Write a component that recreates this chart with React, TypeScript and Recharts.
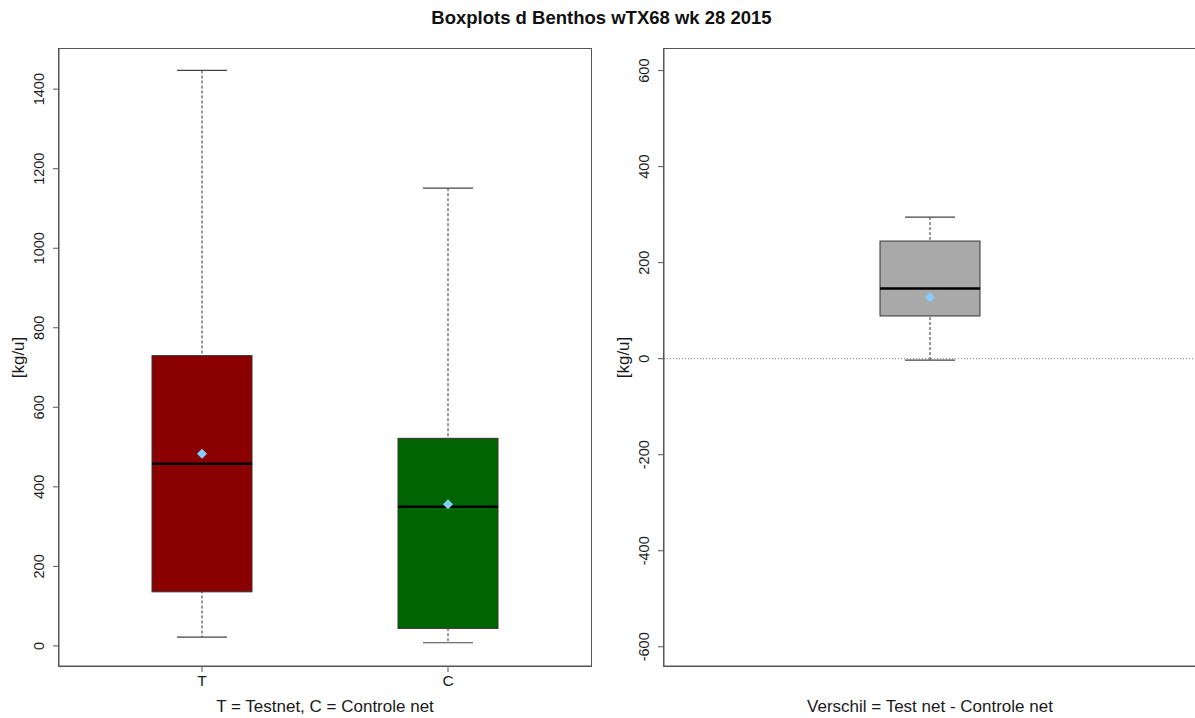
import React from "react";
import {
  ComposedChart,
  Bar,
  Scatter,
  XAxis,
  YAxis,
  ReferenceLine,
} from "recharts";

// ---- Data ----
const leftCategories = ["T", "C"];
const leftMin = [22, 8];
const leftQ1 = [136, 44];
const leftMedian = [458, 350];
const leftQ3 = [730, 522];
const leftMax = [1447, 1151];
const leftMean = [483, 356];
const leftColors = ["#8B0000", "#006400"];
const leftTicks = [0, 200, 400, 600, 800, 1000, 1200, 1400];

const rightCategories = ["Verschil"];
const rightMin = [-3];
const rightQ1 = [89];
const rightMedian = [146];
const rightQ3 = [245];
const rightMax = [295];
const rightMean = [128];
const rightColors = ["#A9A9A9"];
const rightTicks = [-600, -400, -200, 0, 200, 400, 600];

const leftData = leftCategories.map((name, i) => ({
  name,
  whisker: [leftMin[i], leftMax[i]],
  box: [leftQ1[i], leftQ3[i]],
  median: leftMedian[i],
  mean: leftMean[i],
  color: leftColors[i],
}));

const rightData = rightCategories.map((name, i) => ({
  name,
  whisker: [rightMin[i], rightMax[i]],
  box: [rightQ1[i], rightQ3[i]],
  median: rightMedian[i],
  mean: rightMean[i],
  color: rightColors[i],
}));

const FONT = "'Liberation Sans', Arial, sans-serif";
const TEXT = "#1a1a1a";
const FRAME = "#555";

const WhiskerShape = (props: any) => {
  const { x, y, width, height } = props;
  const top = Math.min(y, y + height);
  const bottom = Math.max(y, y + height);
  const cx = x + width / 2;
  const half = width / 4;
  return (
    <g>
      <line x1={cx} x2={cx} y1={top} y2={bottom} stroke="#333" strokeWidth={1} strokeDasharray="3 2" />
      <line x1={cx - half} x2={cx + half} y1={top} y2={top} stroke="#444" strokeWidth={1.2} />
      <line x1={cx - half} x2={cx + half} y1={bottom} y2={bottom} stroke="#444" strokeWidth={1.2} />
    </g>
  );
};

const BoxShape = (props: any) => {
  const { x, y, width, height, payload } = props;
  const top = Math.min(y, y + height);
  const h = Math.abs(height);
  return <rect x={x} y={top} width={width} height={h} fill={payload.color} stroke="#333" strokeWidth={1} />;
};

const MedianShape = (props: any) => {
  const { cx, cy } = props;
  return <line x1={cx - 50} x2={cx + 50} y1={cy} y2={cy} stroke="#000" strokeWidth={2.5} />;
};

const MeanShape = (props: any) => {
  const { cx, cy } = props;
  const r = 5;
  return (
    <polygon
      points={`${cx},${cy - r} ${cx + r},${cy} ${cx},${cy + r} ${cx - r},${cy}`}
      fill="#87CEFA"
    />
  );
};

const YTick = (props: any) => {
  const { x, y, payload } = props;
  const cx = x - 12;
  return (
    <text
      x={cx}
      y={y}
      transform={`rotate(-90, ${cx}, ${y})`}
      textAnchor="middle"
      dominantBaseline="central"
      fontSize={14.5}
      fontFamily={FONT}
      fill={TEXT}
    >
      {payload.value}
    </text>
  );
};

const YLabel = (offsetX: number) => (props: any) => {
  const { viewBox } = props;
  const cx = viewBox.x + offsetX;
  const cy = viewBox.y + viewBox.height / 2;
  return (
    <text
      x={cx}
      y={cy}
      transform={`rotate(-90, ${cx}, ${cy})`}
      textAnchor="middle"
      dominantBaseline="central"
      fontSize={17}
      fontFamily={FONT}
      fill={TEXT}
    >
      [kg/u]
    </text>
  );
};

const XLabel = (text: string) => (props: any) => {
  const { viewBox } = props;
  const cx = viewBox.x + viewBox.width / 2;
  return (
    <text x={cx} y={706} textAnchor="middle" dominantBaseline="central" fontSize={17} fontFamily={FONT} fill={TEXT}>
      {text}
    </text>
  );
};

type PanelProps = {
  data: any[];
  domain: [number, number];
  ticks: number[];
  width: number;
  padding: number;
  xLabel: string;
  showTickLabels: boolean;
  zeroLine: boolean;
};

const Panel = ({ data, domain, ticks, width, padding, xLabel, showTickLabels, zeroLine }: PanelProps) => (
  <ComposedChart
    width={width}
    height={718}
    data={data}
    margin={{ top: 49, right: width - 59 - 532, bottom: 22, left: 0 }}
  >
    <XAxis
      dataKey="name"
      xAxisId="main"
      type="category"
      padding={{ left: padding, right: padding }}
      height={30}
      tickSize={6}
      tickMargin={3}
      stroke={FRAME}
      tick={showTickLabels ? { fontSize: 15.5, fontFamily: FONT, fill: TEXT } : false}
      tickLine={showTickLabels}
      label={{ content: XLabel(xLabel) }}
    />
    <XAxis
      dataKey="name"
      xAxisId="boxAxis"
      type="category"
      padding={{ left: padding, right: padding }}
      height={0}
      hide
    />
    <YAxis
      yAxisId="main"
      type="number"
      domain={domain}
      ticks={ticks}
      width={59}
      allowDataOverflow
      tickSize={6}
      tickMargin={2}
      stroke={FRAME}
      tick={<YTick />}
      label={{ content: YLabel(18) }}
    />
    {zeroLine && (
      <ReferenceLine xAxisId="main" yAxisId="main" y={0} stroke="#777" strokeDasharray="1 2" strokeWidth={1} />
    )}
    <Bar
      xAxisId="main"
      yAxisId="main"
      dataKey="whisker"
      barSize={100}
      shape={<WhiskerShape />}
      isAnimationActive={false}
    />
    <Bar
      xAxisId="boxAxis"
      yAxisId="main"
      dataKey="box"
      barSize={100}
      shape={<BoxShape />}
      isAnimationActive={false}
    />
    <Scatter xAxisId="main" yAxisId="main" dataKey="median" shape={<MedianShape />} isAnimationActive={false} />
    <Scatter xAxisId="main" yAxisId="main" dataKey="mean" shape={<MeanShape />} isAnimationActive={false} />
  </ComposedChart>
);

const frameStyle = (left: number, width: number, rightBorder: boolean): React.CSSProperties => ({
  position: "absolute",
  left,
  top: 48,
  width,
  height: 619,
  borderTop: `1px solid ${FRAME}`,
  borderBottom: `1px solid ${FRAME}`,
  borderLeft: `1px solid ${FRAME}`,
  borderRight: rightBorder ? `1px solid ${FRAME}` : "none",
  boxSizing: "border-box",
  pointerEvents: "none",
});

export default function App() {
  return (
    <div
      style={{
        position: "absolute",
        left: 0,
        top: 0,
        width: 1195,
        height: 718,
        overflow: "hidden",
        background: "#fff",
        fontFamily: FONT,
      }}
    >
      <div
        style={{
          position: "absolute",
          left: 4,
          top: 8,
          width: 1195,
          textAlign: "center",
          fontWeight: "bold",
          fontSize: 18.5,
          color: "#111",
          lineHeight: "20px",
        }}
      >
        Boxplots d Benthos wTX68 wk 28 2015
      </div>
      <div style={{ position: "absolute", left: 0, top: 0 }}>
        <Panel
          data={leftData}
          domain={[-50.5, 1501]}
          ticks={leftTicks}
          width={600}
          padding={20}
          xLabel="T = Testnet, C = Controle net"
          showTickLabels={true}
          zeroLine={false}
        />
      </div>
      <div style={{ position: "absolute", left: 605, top: 0 }}>
        <Panel
          data={rightData}
          domain={[-640, 645]}
          ticks={rightTicks}
          width={600}
          padding={0}
          xLabel="Verschil = Test net - Controle net"
          showTickLabels={false}
          zeroLine={true}
        />
      </div>
      <div style={frameStyle(58, 534, true)} />
      <div style={frameStyle(663, 540, false)} />
    </div>
  );
}
